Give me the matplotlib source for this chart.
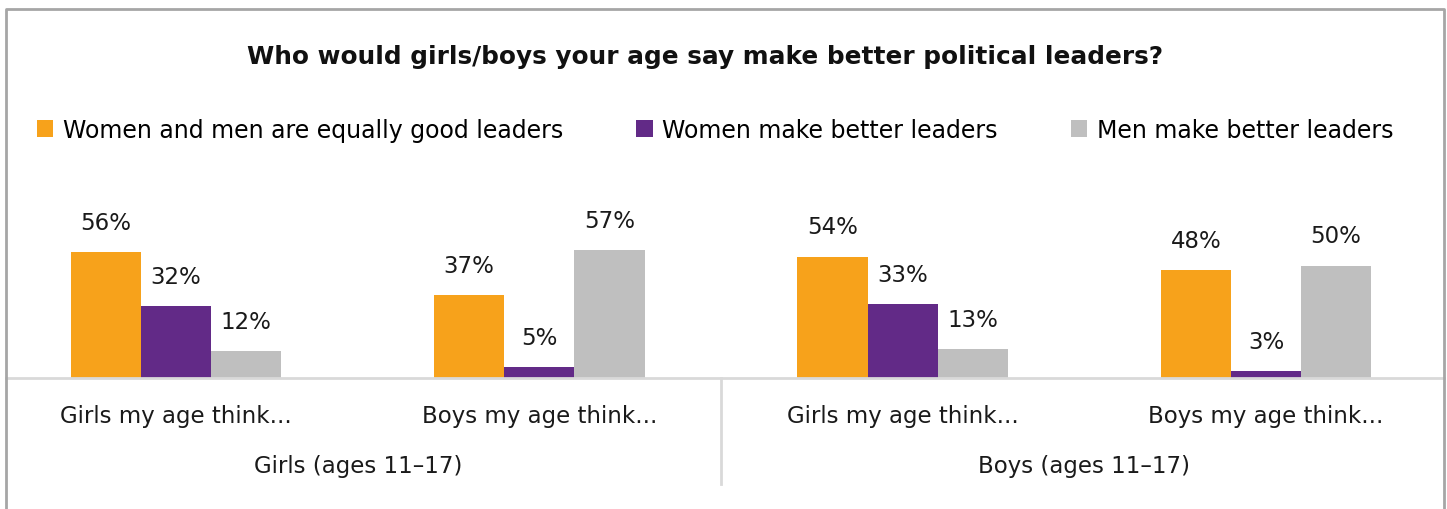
import matplotlib.pyplot as plt
import numpy as np
from matplotlib.lines import Line2D
from matplotlib.transforms import blended_transform_factory

# Data
categories = ["Girls my age think...", "Boys my age think...", "Girls my age think...", "Boys my age think..."]
groups = ["Girls (ages 11\u201317)", "Boys (ages 11\u201317)"]
series = ["Women and men are equally good leaders", "Women make better leaders", "Men make better leaders"]
equal_vals = [56, 37, 54, 48]
women_vals = [32, 5, 33, 3]
men_vals = [12, 57, 13, 50]
colors = ["#F7A21B", "#622A87", "#BFBFBF"]

W, H = 1447, 510
fig = plt.figure(figsize=(W / 100, H / 100), dpi=100)

# axes placed in pixel terms: baseline at y=379, spans x 6..1444
ax_left, ax_right, base_y = 6, 1444, 379
ax_h = 140
ax = fig.add_axes([ax_left / W, (H - base_y) / H, (ax_right - ax_left) / W, ax_h / H])
ax.set_ylim(0, ax_h / 2.25)
ax.set_xlim(-0.468, 3.49)

x = np.arange(len(categories))
bw = 0.193
for i, (vals, c) in enumerate(zip([equal_vals, women_vals, men_vals], colors)):
    pos = x + (i - 1) * bw
    ax.bar(pos, vals, width=bw, color=c, label=series[i], zorder=2)
    for p, v in zip(pos, vals):
        ax.annotate(f"{v}%", (p, v), xytext=(0, 13), textcoords="offset points",
                    ha="center", va="bottom", fontsize=16.5, color="#1a1a1a",
                    annotation_clip=False)

for s in ["top", "right", "left"]:
    ax.spines[s].set_visible(False)
ax.spines["bottom"].set_color("#D9D9D9")
ax.spines["bottom"].set_linewidth(2)
ax.set_yticks([])
ax.set_xticks(x)
ax.set_xticklabels(categories, fontsize=16.5, color="#1a1a1a")
ax.tick_params(axis="x", length=0, pad=19)

# group labels and separator
tr = blended_transform_factory(ax.transData, fig.transFigure)
for gi, g in enumerate(groups):
    ax.text(gi * 2 + 0.5, 1 - 467 / H, g, transform=tr, ha="center", va="center",
            fontsize=16.5, color="#1a1a1a")
ax.add_line(Line2D([1.5, 1.5], [1 - base_y / H, 1 - 485 / H], transform=tr,
                   color="#D9D9D9", lw=2, clip_on=False))

# title
fig.text(705 / W, 1 - 57 / H, "Who would girls/boys your age say make better political leaders?",
         ha="center", va="center", fontsize=17.8, fontweight="bold", color="#111111")

# legend
leg = fig.legend(loc="center", bbox_to_anchor=(715 / W, 1 - 131 / H), ncol=3, frameon=False,
                 fontsize=17, handlelength=0.7, handleheight=0.7, handletextpad=0.4,
                 columnspacing=3.1)

# outer frame (left, top, right)
fx0, fx1, fy0 = 6 / W, 1444 / W, 1 - 10 / H
fig.add_artist(Line2D([fx0, fx0, fx1, fx1], [0, fy0, fy0, 0], transform=fig.transFigure,
                      color="#A6A6A6", lw=2))

fig.savefig("out.png", dpi=100)
